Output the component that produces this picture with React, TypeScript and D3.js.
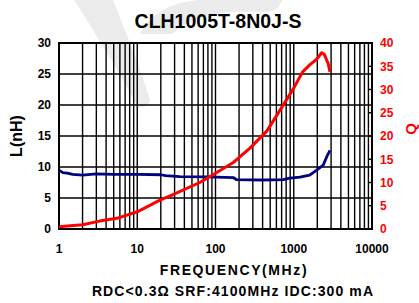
import * as d3 from "d3";

// frequency (MHz) and inductance (nH)
const lFreq = [1, 1.12, 1.27, 1.5, 2, 3, 5, 10, 20, 23, 35, 80, 169, 186, 400, 736, 890, 1200, 1600, 1963, 2380, 2650, 2905];
const lVals = [9.5, 9.1, 9.0, 8.8, 8.7, 8.9, 8.8, 8.8, 8.75, 8.6, 8.45, 8.4, 8.3, 7.95, 7.9, 7.95, 8.2, 8.35, 8.7, 9.5, 10.3, 11.7, 12.7];

// frequency (MHz) and Q
const qFreq = [1, 1.4, 2, 3.3, 5.5, 10, 19.5, 27.7, 63, 100, 169, 276, 455, 736, 1000, 1300, 1600, 1963, 2270, 2450, 2750, 2905];
const qVals = [0.5, 0.7, 0.9, 1.7, 2.3, 3.7, 6.2, 7.3, 10.0, 12.0, 14.3, 17.4, 21.1, 26.7, 30.3, 33.8, 35.3, 36.5, 37.9, 37.6, 35.6, 33.8];

const xTicks = [1, 10, 100, 1000, 10000];
const lTicks = [0, 5, 10, 15, 20, 25, 30];
const qTicks = [0, 5, 10, 15, 20, 25, 30, 35, 40];

const W = 419, H = 303;
const left = 59, top = 43, right = 372, bottom = 229;
const font = "'Liberation Sans', Arial, sans-serif";

export default function App() {
  const x = d3.scaleLog().domain([1, 10000]).range([left, right]);
  const yL = d3.scaleLinear().domain([0, 30]).range([bottom, top]);
  const yQ = d3.scaleLinear().domain([0, 40]).range([bottom, top]);

  // minor grid: 1..9 in each decade
  const vGrid: number[] = [];
  for (let d = 1; d < 10000; d *= 10) {
    for (let k = 1; k < 10; k++) vGrid.push(d * k);
  }

  const lLine = d3.line<number>().x((_, i) => x(lFreq[i])).y((v) => yL(v));
  const qLine = d3.line<number>().x((_, i) => x(qFreq[i])).y((v) => yQ(v));

  return (
    <svg width={W} height={H} style={{ position: "absolute", left: 0, top: 0, background: "#fff" }}>
      {/* faint watermark swooshes */}
      <path d="M74,0 L113,0 C128,38 142,72 150,100 C148,108 140,110 136,104 C118,70 96,34 74,0 Z" fill="#ebebeb" />
      <path d="M140,34 C150,14 170,2 200,0 L282,0 C280,8 274,12 266,12 C230,10 196,12 172,34 Z" fill="#ebebeb" />

      <text x={218} y={28} textAnchor="middle" fontFamily={font} fontWeight="bold" fontSize={19.5}>
        CLH1005T-8N0J-S
      </text>

      {/* grid */}
      <g stroke="#000" strokeWidth={1.4}>
        {vGrid.map((f) => (
          <line key={"v" + f} x1={x(f)} x2={x(f)} y1={top} y2={bottom} />
        ))}
        {lTicks.map((t) => (
          <line key={"h" + t} x1={left} x2={right} y1={yL(t)} y2={yL(t)} />
        ))}
        {qTicks.map((t) => (
          <line key={"q" + t} x1={right - 3} x2={right} y1={yQ(t)} y2={yQ(t)} />
        ))}
      </g>
      <rect x={left} y={top} width={right - left} height={bottom - top} fill="none" stroke="#000" strokeWidth={2} />

      {/* series */}
      <path d={lLine(lVals) || ""} fill="none" stroke="#000080" strokeWidth={2.8} strokeLinejoin="round" />
      <path d={qLine(qVals) || ""} fill="none" stroke="#ff0000" strokeWidth={3} strokeLinejoin="round" />

      {/* axis labels */}
      <g fontFamily={font} fontWeight="bold" fontSize={12}>
        {lTicks.map((t) => (
          <text key={"lt" + t} x={51} y={yL(t)} dy="0.36em" textAnchor="end">{t}</text>
        ))}
        {qTicks.map((t) => (
          <text key={"qt" + t} x={380} y={yQ(t)} dy="0.36em" fill="#ff0000">{t}</text>
        ))}
        {xTicks.map((t) => (
          <text key={"xt" + t} x={x(t)} y={253} textAnchor="middle">{t}</text>
        ))}
      </g>

      <text x={234} y={275} textAnchor="middle" fontFamily={font} fontWeight="bold" fontSize={14} letterSpacing={1.6}>
        FREQUENCY(MHz)
      </text>
      <text x={233} y={296} textAnchor="middle" fontFamily={font} fontWeight="bold" fontSize={14} letterSpacing={1.1}>
        RDC&lt;0.3Ω SRF:4100MHz IDC:300 mA
      </text>
      <text transform="translate(22,136) rotate(-90)" textAnchor="middle" fontFamily={font} fontWeight="bold" fontSize={16}>
        L(nH)
      </text>
      <text transform="translate(416,129) rotate(-90)" textAnchor="middle" fontFamily={font} fontWeight="bold" fontSize={15} fill="#ff0000">
        Q
      </text>
    </svg>
  );
}
